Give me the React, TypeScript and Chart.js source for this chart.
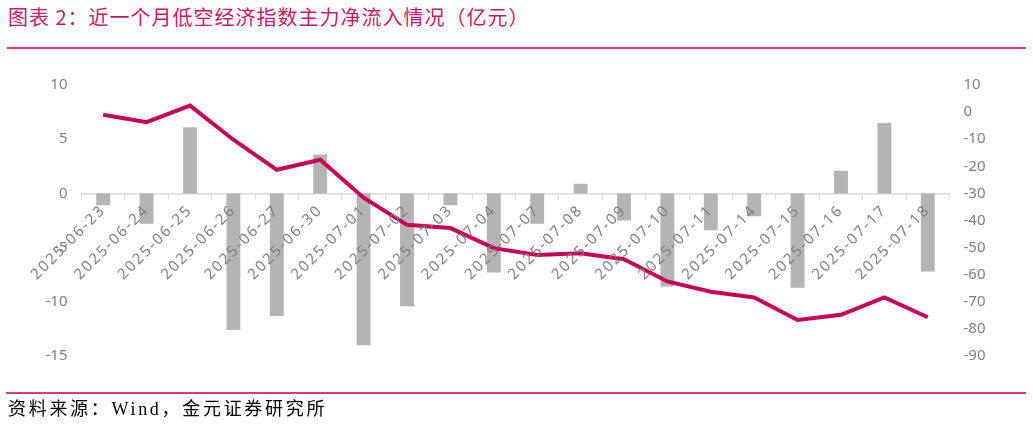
import { useEffect, useRef } from 'react'
import Chart from 'chart.js/auto'

const dates = [
  '2025-06-23', '2025-06-24', '2025-06-25', '2025-06-26', '2025-06-27', '2025-06-30',
  '2025-07-01', '2025-07-02', '2025-07-03', '2025-07-04', '2025-07-07', '2025-07-08',
  '2025-07-09', '2025-07-10', '2025-07-11', '2025-07-14', '2025-07-15', '2025-07-16',
  '2025-07-17', '2025-07-18'
]
// daily main net inflow (left axis, 亿元)
const dailyFlow = [
  -1.1, -2.8, 6.1, -12.6, -11.3, 3.6, -14.0, -10.4, -1.1, -7.3,
  -2.8, 0.9, -2.5, -8.6, -3.4, -2.1, -8.7, 2.1, 6.5, -7.2
]
// cumulative net inflow (right axis, 亿元)
const cumulativeFlow = [
  -1.0, -3.7, 2.4, -10.2, -21.3, -17.6, -31.6, -41.6, -42.8, -50.2,
  -52.7, -52.1, -54.3, -62.5, -66.3, -68.4, -76.7, -74.8, -68.4, -75.7
]

const title = '图表 2：近一个月低空经济指数主力净流入情况（亿元）'
const source = '资料来源：Wind，金元证券研究所'

const tickFont = { family: '"Noto Sans", "Liberation Sans", sans-serif', size: 15 }

// x labels are drawn after the datasets (ticks.z = 1); widen their spacing a little
const labelSpacing = {
  id: 'labelSpacing',
  afterDatasetsDraw(chart: any) { chart.ctx.letterSpacing = '2px' },
  afterDraw(chart: any) { chart.ctx.letterSpacing = '0px' }
}

export default function App() {
  const canvasRef = useRef<HTMLCanvasElement | null>(null)
  const chartRef = useRef<any>(null)

  useEffect(() => {
    const ctx = canvasRef.current?.getContext('2d')
    if (!ctx) return
    if (chartRef.current) chartRef.current.destroy()

    chartRef.current = new Chart(ctx, {
      type: 'bar',
      data: {
        labels: dates,
        datasets: [
          {
            type: 'bar',
            data: dailyFlow,
            backgroundColor: '#b4b4b4',
            barPercentage: 0.32,
            categoryPercentage: 1,
            yAxisID: 'y',
            order: 1
          },
          {
            type: 'line',
            data: cumulativeFlow,
            borderColor: '#c8005a',
            borderWidth: 4,
            pointRadius: 0,
            tension: 0,
            yAxisID: 'y1',
            order: 0
          } as any
        ]
      },
      options: {
        animation: false,
        responsive: true,
        maintainAspectRatio: false,
        layout: { padding: { top: 85, bottom: 69, left: 0, right: 0 } },
        plugins: { legend: { display: false }, tooltip: { enabled: false } },
        scales: {
          x: {
            position: { y: 0 } as any,
            offset: true,
            grid: { offset: true, drawOnChartArea: false, drawTicks: true, tickLength: 5, color: '#d9d9d9', lineWidth: 1 },
            border: { display: true, color: '#d9d9d9', width: 1.5 },
            ticks: {
              z: 1,
              autoSkip: false,
              maxRotation: 45,
              minRotation: 45,
              padding: 3,
              color: '#808080',
              font: { family: tickFont.family, size: 15 }
            }
          },
          y: {
            position: 'left',
            min: -15,
            max: 10,
            afterFit: (s: any) => { s.width = 81.5 },
            grid: { display: false, drawTicks: false },
            border: { display: false },
            ticks: { stepSize: 5, padding: 14, color: '#808080', font: tickFont }
          },
          y1: {
            position: 'right',
            min: -90,
            max: 10,
            afterFit: (s: any) => { s.width = 83.5 },
            grid: { display: false, drawTicks: false },
            border: { display: false },
            ticks: { stepSize: 10, padding: 14, color: '#808080', font: tickFont }
          }
        }
      },
      plugins: [labelSpacing]
    })

    return () => chartRef.current?.destroy()
  }, [])

  return (
    <div style={{ position: 'absolute', left: 0, top: 0, width: 1033, height: 425, background: '#fff', fontFamily: '"Noto Sans CJK SC", sans-serif' }}>
      <div style={{ position: 'absolute', left: 8, top: 2, fontSize: 20, color: '#c8196a', whiteSpace: 'nowrap', letterSpacing: 1 }}>
        {title}
      </div>
      <div style={{ position: 'absolute', left: 7, right: 7, top: 47, height: 1.5, background: '#e0338a' }} />
      <div style={{ position: 'absolute', left: 0, top: 0, width: 1033, height: 425 }}>
        <canvas ref={canvasRef} />
      </div>
      <div style={{ position: 'absolute', left: 6, right: 7, top: 392, height: 1.5, background: '#e0338a' }} />
      <div style={{ position: 'absolute', left: 8, top: 394, fontSize: 18, color: '#000', whiteSpace: 'nowrap', letterSpacing: 2.7, fontFamily: '"Liberation Serif", "Noto Sans CJK SC", serif' }}>
        {source}
      </div>
    </div>
  )
}
